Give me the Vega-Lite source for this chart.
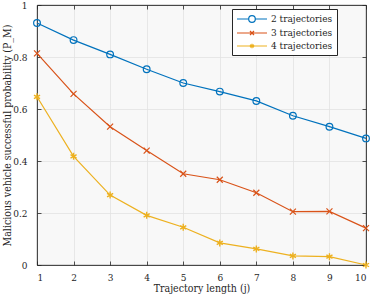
{
  "$schema": "https://vega.github.io/schema/vega-lite/v6.json",
  "width": 329,
  "height": 260,
  "autosize": {"type": "none"},
  "padding": {"left": 37, "top": 5, "right": 8, "bottom": 33},
  "background": "white",
  "config": {
    "font": "DejaVu Serif Condensed",
    "view": {"fill": "#f8f8f8", "stroke": "#262626", "strokeWidth": 0.8},
    "axis": {
      "labelFont": "DejaVu Serif Condensed", "labelFontSize": 10, "labelColor": "#262626",
      "titleFont": "DejaVu Serif Condensed", "titleFontSize": 10.5, "titleFontWeight": "normal", "titleColor": "#262626",
      "domainColor": "#262626", "domainWidth": 0.8, "tickColor": "#262626", "tickWidth": 0.8, "tickSize": -4,
      "gridColor": "#e2e2e2", "gridOpacity": 1, "gridWidth": 0.8
    },
    "legend": {"labelFont": "DejaVu Serif Condensed"}
  },
  "data": {
    "values": [
      {"j": 1, "series": "2 trajectories", "p": 0.931},
      {"j": 2, "series": "2 trajectories", "p": 0.865},
      {"j": 3, "series": "2 trajectories", "p": 0.810},
      {"j": 4, "series": "2 trajectories", "p": 0.753},
      {"j": 5, "series": "2 trajectories", "p": 0.700},
      {"j": 6, "series": "2 trajectories", "p": 0.667},
      {"j": 7, "series": "2 trajectories", "p": 0.631},
      {"j": 8, "series": "2 trajectories", "p": 0.574},
      {"j": 9, "series": "2 trajectories", "p": 0.532},
      {"j": 10, "series": "2 trajectories", "p": 0.487},
      {"j": 1, "series": "3 trajectories", "p": 0.814},
      {"j": 2, "series": "3 trajectories", "p": 0.658},
      {"j": 3, "series": "3 trajectories", "p": 0.532},
      {"j": 4, "series": "3 trajectories", "p": 0.440},
      {"j": 5, "series": "3 trajectories", "p": 0.351},
      {"j": 6, "series": "3 trajectories", "p": 0.328},
      {"j": 7, "series": "3 trajectories", "p": 0.278},
      {"j": 8, "series": "3 trajectories", "p": 0.205},
      {"j": 9, "series": "3 trajectories", "p": 0.206},
      {"j": 10, "series": "3 trajectories", "p": 0.142},
      {"j": 1, "series": "4 trajectories", "p": 0.647},
      {"j": 2, "series": "4 trajectories", "p": 0.418},
      {"j": 3, "series": "4 trajectories", "p": 0.269},
      {"j": 4, "series": "4 trajectories", "p": 0.191},
      {"j": 5, "series": "4 trajectories", "p": 0.145},
      {"j": 6, "series": "4 trajectories", "p": 0.085},
      {"j": 7, "series": "4 trajectories", "p": 0.062},
      {"j": 8, "series": "4 trajectories", "p": 0.035},
      {"j": 9, "series": "4 trajectories", "p": 0.032},
      {"j": 10, "series": "4 trajectories", "p": 0.0}
    ]
  },
  "layer": [
    {
      "mark": {"type": "line", "strokeWidth": 1.2, "clip": false},
      "encoding": {
        "x": {"field": "j", "type": "quantitative", "scale": {"domain": [1, 10], "nice": false},
          "axis": {"values": [1, 2, 3, 4, 5, 6, 7, 8, 9, 10], "title": "Trajectory length (j)", "grid": true, "labelPadding": 11, "titlePadding": 1}},
        "y": {"field": "p", "type": "quantitative", "scale": {"domain": [0, 1], "nice": false},
          "axis": {"values": [0, 0.2, 0.4, 0.6, 0.8, 1], "format": "~g", "title": "Malicious vehicle successful probability (P_M)", "grid": true, "labelPadding": 14, "titleX": -30, "titleBaseline": "middle"}},
        "color": {"field": "series", "type": "nominal",
          "scale": {"domain": ["2 trajectories", "3 trajectories", "4 trajectories"], "range": ["#0072BD", "#D95319", "#EDB120"]},
          "legend": {"title": null, "orient": "none", "legendX": 195, "legendY": 4,
            "fillColor": "white", "strokeColor": "#262626", "padding": 4,
            "labelFont": "DejaVu Serif Condensed", "labelFontSize": 10, "labelColor": "#262626",
            "symbolSize": 100, "symbolStrokeWidth": 1.2, "symbolOffset": 10, "labelOffset": 13, "rowPadding": 2,
            "encode": {"symbols": {"update": {
              "fill": {"value": "transparent"},
              "shape": {"signal": "datum.value == '2 trajectories' ? 'M-3,0H-0.66M0.66,0H3M0.66,0A0.66,0.66 0 1 1 -0.66,0A0.66,0.66 0 1 1 0.66,0' : datum.value == '3 trajectories' ? 'M-3,0H3M-0.4,-0.4L0.4,0.4M-0.4,0.4L0.4,-0.4' : 'M-3,0H3M0,-0.45L0,0.45M-0.4,-0.22L0.4,0.22M-0.4,0.22L0.4,-0.22'"}
            }}}}
        }
      }
    },
    {
      "transform": [{"filter": "datum.series == '2 trajectories'"}],
      "mark": {"type": "point", "shape": "circle", "filled": false, "size": 45, "strokeWidth": 1.2, "opacity": 1, "clip": false},
      "encoding": {
        "x": {"field": "j", "type": "quantitative",
          "axis": {"orient": "top", "values": [1, 2, 3, 4, 5, 6, 7, 8, 9, 10], "labels": false, "grid": false, "title": null}},
        "y": {"field": "p", "type": "quantitative",
          "axis": {"orient": "right", "values": [0, 0.2, 0.4, 0.6, 0.8, 1], "labels": false, "grid": false, "title": null}},
        "color": {"field": "series", "type": "nominal", "legend": null}
      }
    },
    {
      "transform": [{"filter": "datum.series == '3 trajectories'"}],
      "mark": {"type": "point", "shape": "M-1,-1L1,1M-1,1L1,-1", "filled": false, "size": 36, "strokeWidth": 1.2, "opacity": 1, "clip": false},
      "encoding": {
        "x": {"field": "j", "type": "quantitative", "axis": null},
        "y": {"field": "p", "type": "quantitative", "axis": null},
        "color": {"field": "series", "type": "nominal", "legend": null}
      }
    },
    {
      "transform": [{"filter": "datum.series == '4 trajectories'"}],
      "mark": {"type": "point", "shape": "M0,-1L0,1M-0.87,-0.5L0.87,0.5M-0.87,0.5L0.87,-0.5", "filled": false, "size": 49, "strokeWidth": 1.4, "opacity": 1, "clip": false},
      "encoding": {
        "x": {"field": "j", "type": "quantitative", "axis": null},
        "y": {"field": "p", "type": "quantitative", "axis": null},
        "color": {"field": "series", "type": "nominal", "legend": null}
      }
    }
  ],
  "resolve": {"axis": {"x": "independent", "y": "independent"}}
}
